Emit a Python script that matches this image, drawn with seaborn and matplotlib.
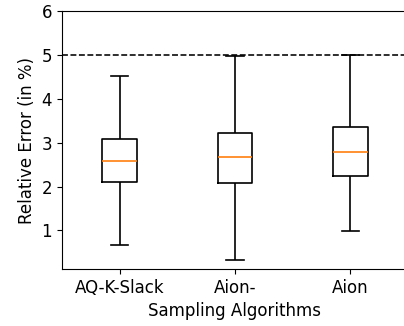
import matplotlib
matplotlib.use("Agg")
import matplotlib.pyplot as plt
import seaborn as sns
import pandas as pd

# Summary of relative error per sampling algorithm (in %)
algorithms = ["AQ-K-Slack", "Aion-", "Aion"]
whisker_low = [0.66, 0.33, 0.98]
q1 = [2.11, 2.08, 2.24]
median = [2.59, 2.67, 2.79]
q3 = [3.08, 3.22, 3.36]
whisker_high = [4.52, 4.98, 5.00]
error_bound = 5.0

rows = []
for i, name in enumerate(algorithms):
    for v in (whisker_low[i], q1[i], median[i], q3[i], whisker_high[i]):
        rows.append({"algorithm": name, "error": v})
df = pd.DataFrame(rows)

fig = plt.figure(figsize=(4.04, 3.26), dpi=100)
ax = fig.add_axes([0.153, 0.175, 0.857, 0.791])

sns.boxplot(
    data=df, x="algorithm", y="error", order=algorithms,
    whis=(0, 100), width=0.3, fill=False, color="black", linewidth=1.2,
    medianprops={"color": "#ff7f0e", "linewidth": 1.2},
    ax=ax,
)

ax.axhline(error_bound, color="black", linestyle="--", linewidth=1.15)

ax.set_xlim(-0.5, 2.5)
ax.set_ylim(0.12, 6)
ax.set_yticks([1, 2, 3, 4, 5, 6])
ax.spines["right"].set_visible(False)
ax.set_xlabel("Sampling Algorithms", fontsize=12)
ax.set_ylabel("Relative Error (in %)", fontsize=12)
ax.tick_params(labelsize=12)

fig.savefig("out.png", dpi=100)
